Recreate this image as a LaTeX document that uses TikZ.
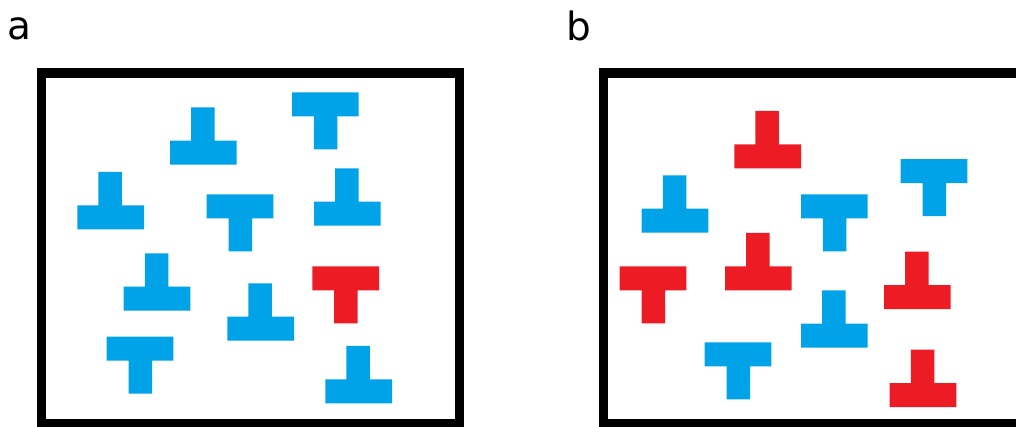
\documentclass[tikz,border=0pt]{standalone}
\usepackage{fontspec}
\setmainfont{DejaVu Sans}
\definecolor{paintblue}{RGB}{0,162,232}
\definecolor{paintred}{RGB}{237,28,36}
\tikzset{
  panel/.style={draw=black, line width=9.5pt},
  paneltag/.style={anchor=base west, inner sep=0pt, font=\fontsize{39}{44}\selectfont},
  % T piece, anchored at the top-left corner of its bar
  tee/.pic={
    \fill[pic actions] (0,0) -- (66.7,0) -- (66.7,24) -- (45.4,24) -- (45.4,57)
      -- (21.9,57) -- (21.9,24) -- (0,24) -- cycle;
  },
  % upside-down T piece, anchored at the top-left corner of its bar
  invtee/.pic={
    \fill[pic actions] (21.1,-33.4) -- (44.6,-33.4) -- (44.6,0) -- (66.7,0)
      -- (66.7,24) -- (0,24) -- (0,0) -- (21.1,0) -- cycle;
  },
}
\begin{document}
\begin{tikzpicture}[x=1pt, y=-1pt]
  \useasboundingbox (0,0) rectangle (1016,426);
  \begin{scope}
    \clip (0,0) rectangle (1016,426);

    % panel a
    \node[paneltag] (taga) at (7.6,39) {a};
    \draw[panel] (41.5,73) rectangle (459.5,424);
    \pic[fill=paintblue] at (170,140.7) {invtee};
    \pic[fill=paintblue] at (292,92.3) {tee};
    \pic[fill=paintblue] at (77.3,205.3) {invtee};
    \pic[fill=paintblue] at (206.7,194.3) {tee};
    \pic[fill=paintblue] at (314,201.7) {invtee};
    \pic[fill=paintblue] at (123.7,286.7) {invtee};
    \pic[fill=paintblue] at (227.3,316.7) {invtee};
    \pic[fill=paintred]  at (312.3,266.3) {tee};
    \pic[fill=paintblue] at (106.7,336.7) {tee};
    \pic[fill=paintblue] at (325.3,379.3) {invtee};

    % panel b
    \node[paneltag] (tagb) at (566.2,40) {b};
    \draw[panel] (603.5,73) rectangle (1040,424);
    \pic[fill=paintred]  at (734.3,144.3) {invtee};
    \pic[fill=paintblue] at (641.7,208.7) {invtee};
    \pic[fill=paintblue] at (801,194.3) {tee};
    \pic[fill=paintblue] at (900.7,159) {tee};
    \pic[fill=paintred]  at (619.7,266.3) {tee};
    \pic[fill=paintred]  at (725,266.3) {invtee};
    \pic[fill=paintred]  at (884,285) {invtee};
    \pic[fill=paintblue] at (801,323.7) {invtee};
    \pic[fill=paintblue] at (704.7,342.3) {tee};
    \pic[fill=paintred]  at (889.7,383) {invtee};
  \end{scope}
\end{tikzpicture}
\end{document}
